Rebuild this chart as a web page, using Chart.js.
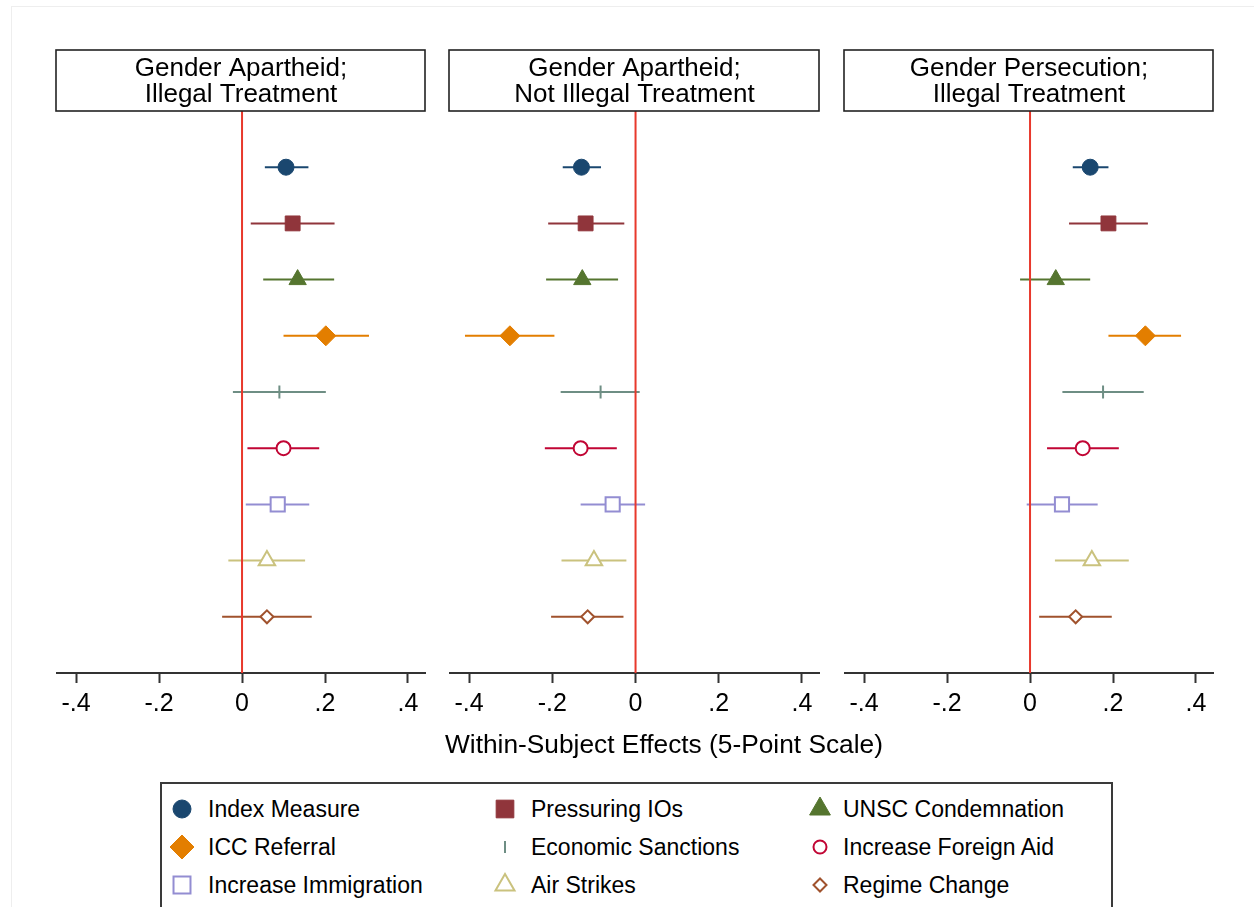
<!DOCTYPE html>
<html>
<head>
<meta charset="utf-8">
<script src="https://cdn.jsdelivr.net/npm/chart.js@4.4.1/dist/chart.umd.min.js"></script>
<style>
  html, body { margin: 0; padding: 0; background: #fff; }
  body { width: 1254px; height: 907px; position: relative; overflow: hidden;
         font-family: 'Liberation Sans', Arial, Helvetica, sans-serif; }
  .frame { position: absolute; left: 11px; top: 6px; width: 1300px; height: 1000px;
           border-left: 1px solid #eeeeee; border-top: 1px solid #eeeeee; }
  .panel { position: absolute; top: 40px; }
  #xtitle { position: absolute; left: 314px; width: 700px; top: 729px; text-align: center;
            font-size: 26.3px; line-height: 30px; color: #000; }
  #legend { position: absolute; left: 160px; top: 782px; width: 953px; height: 150px;
            box-sizing: border-box; border: 2px solid #3a3a3a; }
  #legendMarks { position: absolute; left: 160px; top: 782px; }
  .ltext { position: absolute; font-size: 23px; line-height: 26px; color: #000; white-space: nowrap; }
</style>
</head>
<body>
<div class="frame"></div>
<canvas id="p1" class="panel" width="392" height="700" style="left:45px"></canvas>
<canvas id="p2" class="panel" width="393" height="700" style="left:438px"></canvas>
<canvas id="p3" class="panel" width="392" height="700" style="left:833px"></canvas>
<div id="xtitle">Within-Subject Effects (5-Point Scale)</div>
<div id="legend"></div>
<canvas id="legendMarks" width="953" height="125"></canvas>
<script>
// outcomes, top to bottom
var categories = ["Index Measure", "Pressuring IOs", "UNSC Condemnation", "ICC Referral",
  "Economic Sanctions", "Increase Foreign Aid", "Increase Immigration", "Air Strikes", "Regime Change"];

var panelTitles = [
  ["Gender Apartheid;", "Illegal Treatment"],
  ["Gender Apartheid;", "Not Illegal Treatment"],
  ["Gender Persecution;", "Illegal Treatment"]
];

var xTicks = [-0.4, -0.2, 0, 0.2, 0.4];

// panel 1: gender apartheid, illegal
var est1 = [0.106, 0.122, 0.134, 0.202, 0.090, 0.100, 0.086, 0.060, 0.060];
var lo1  = [0.055, 0.021, 0.051, 0.100, -0.022, 0.013, 0.009, -0.033, -0.048];
var hi1  = [0.160, 0.223, 0.222, 0.306, 0.202, 0.186, 0.162, 0.152, 0.168];

// panel 2: gender apartheid, not illegal
var est2 = [-0.130, -0.120, -0.128, -0.302, -0.084, -0.132, -0.055, -0.100, -0.115];
var lo2  = [-0.175, -0.210, -0.215, -0.410, -0.180, -0.218, -0.132, -0.178, -0.203];
var hi2  = [-0.083, -0.027, -0.042, -0.195, 0.010, -0.045, 0.023, -0.022, -0.029];

// panel 3: gender persecution, illegal
var est3 = [0.145, 0.189, 0.062, 0.278, 0.176, 0.127, 0.077, 0.149, 0.110];
var lo3  = [0.103, 0.094, -0.024, 0.189, 0.078, 0.041, -0.008, 0.060, 0.022];
var hi3  = [0.189, 0.284, 0.145, 0.364, 0.274, 0.214, 0.163, 0.238, 0.197];

// marker styles (stata-ish palette)
var colors = ["#1a476f", "#90353b", "#55752f", "#e37e00", "#6e8e84", "#c10534", "#938dd2", "#cac27e", "#a0522d"];
var shapes = ["circle", "rect", "triangle", "rectRot", "line", "circle", "rect", "triangle", "rectRot"];
var hollow = [false, false, false, false, true, true, true, true, true];
var sizes = [8, 10.5, 10, 10, 6.5, 7, 10, 9.5, 6.5];
var legendSizes = [9, 12.5, 12, 12, 6, 6.5, 12, 11, 6.5];

var FONT = "'Liberation Sans', Arial, Helvetica, sans-serif";
Chart.defaults.font.family = FONT;

// draws the boxed title above each panel
var stripPlugin = {
  id: 'strip',
  afterDraw: function (chart, args, opts) {
    var ctx = chart.ctx, area = chart.chartArea;
    ctx.save();
    var x0 = area.left - 1, w = area.right - area.left + 1;
    ctx.fillStyle = '#fff';
    ctx.fillRect(x0, 10, w, 61);
    ctx.strokeStyle = '#222';
    ctx.lineWidth = 1.6;
    ctx.strokeRect(x0, 10, w, 61);
    ctx.fillStyle = '#000';
    ctx.font = "26px " + FONT;
    ctx.textAlign = 'center';
    ctx.textBaseline = 'alphabetic';
    var cx = (area.left + area.right) / 2;
    ctx.fillText(opts.lines[0], cx, 35.5);
    ctx.fillText(opts.lines[1], cx, 62);
    ctx.restore();
  }
};

function tickLabel(v) {
  if (Math.abs(v) < 1e-9) return '0';
  return (v < 0 ? '-' : '') + '.' + Math.round(Math.abs(v) * 10);
}

function makePanel(id, title, est, lo, hi) {
  var datasets = [];
  // zero reference line
  datasets.push({
    type: 'line', data: [{x: 0, y: 0}, {x: 0, y: 10}],
    borderColor: '#e8382c', borderWidth: 2, pointRadius: 0, order: 1
  });
  for (var i = 0; i < categories.length; i++) {
    // confidence interval
    datasets.push({
      type: 'line', label: categories[i] + ' CI',
      data: [{x: lo[i], y: i + 1}, {x: hi[i], y: i + 1}],
      borderColor: colors[i], borderWidth: 2, pointRadius: 0, order: 2
    });
    // point estimate
    datasets.push({
      type: 'scatter', label: categories[i],
      data: [{x: est[i], y: i + 1}],
      pointStyle: shapes[i],
      pointRotation: shapes[i] === 'line' ? 90 : 0,
      pointRadius: sizes[i],
      pointBackgroundColor: hollow[i] ? '#fff' : colors[i],
      pointBorderColor: colors[i],
      pointBorderWidth: hollow[i] ? 2 : 1,
      order: 0
    });
  }
  return new Chart(document.getElementById(id), {
    type: 'scatter',
    data: { datasets: datasets },
    plugins: [stripPlugin],
    options: {
      responsive: false,
      animation: false,
      devicePixelRatio: 1,
      layout: { padding: { top: 71, left: 10, right: 10, bottom: 0 } },
      plugins: {
        legend: { display: false },
        tooltip: { enabled: false },
        strip: { lines: title }
      },
      scales: {
        x: {
          type: 'linear', min: -0.446, max: 0.441,
          afterBuildTicks: function (scale) {
            scale.ticks = xTicks.map(function (v) { return {value: v}; });
          },
          afterFit: function (scale) { scale.height = 67; },
          ticks: {
            callback: tickLabel, color: '#000', padding: 6,
            font: { size: 25 }, maxRotation: 0, autoSkip: false
          },
          grid: { drawOnChartArea: false, drawTicks: true, tickLength: 10, tickColor: '#333', tickWidth: 2 },
          border: { display: true, color: '#333', width: 2 }
        },
        y: { display: false, min: 0, max: 10, reverse: true }
      }
    }
  });
}

makePanel('p1', panelTitles[0], est1, lo1, hi1);
makePanel('p2', panelTitles[1], est2, lo2, hi2);
makePanel('p3', panelTitles[2], est3, lo3, hi3);

// legend: 3 columns x 3 rows
var legSymX = [22, 345, 660];
var legTextX = [48, 371, 683];
var legRowY = [27, 65, 103];
var legend = document.getElementById('legend');
var lctx = document.getElementById('legendMarks').getContext('2d');
for (var i = 0; i < categories.length; i++) {
  var col = i % 3, row = Math.floor(i / 3);
  var span = document.createElement('div');
  span.className = 'ltext';
  span.textContent = categories[i];
  span.style.left = (legTextX[col] - 2) + 'px';
  span.style.top = (legRowY[row] - 13 - 2) + 'px';
  legend.appendChild(span);

  lctx.save();
  lctx.fillStyle = hollow[i] ? '#fff' : colors[i];
  lctx.strokeStyle = colors[i];
  lctx.lineWidth = hollow[i] ? 2 : 1;
  Chart.helpers.drawPoint(lctx, {
    pointStyle: shapes[i],
    rotation: shapes[i] === 'line' ? 90 : 0,
    radius: legendSizes[i],
    borderWidth: hollow[i] ? 2 : 1
  }, legSymX[col], legRowY[row]);
  lctx.restore();
}
</script>
</body>
</html>
